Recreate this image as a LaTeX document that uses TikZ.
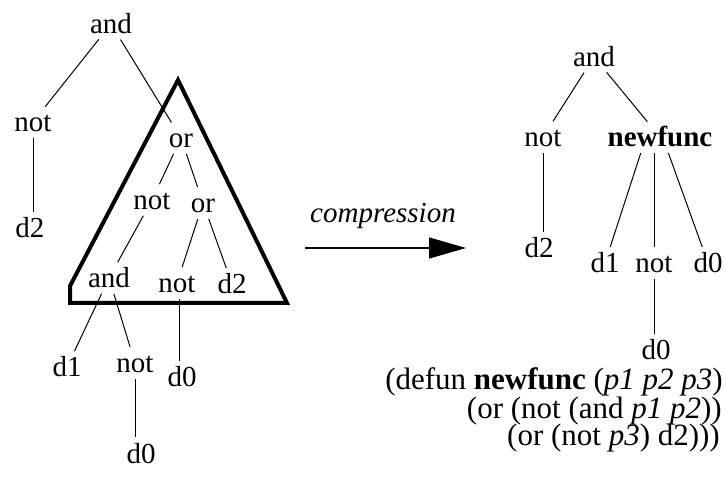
\documentclass[tikz,border=0pt]{standalone}
\usepackage{fontspec}
\setmainfont{Liberation Serif}
\usepackage{tikz}
\usetikzlibrary{arrows.meta,positioning}

\begin{document}
\begin{tikzpicture}[x=1pt,y=-1pt,font=\fontsize{29}{34}\selectfont,
  lbl/.style={inner sep=2pt,text height=20pt,text depth=0pt},
  br/.style={line width=1pt,shorten <=4pt,shorten >=4pt},
  defline/.style={anchor=base east,inner sep=0pt,font=\fontsize{31}{36}\selectfont}]
\useasboundingbox (0,0) rectangle (726,494);
% left tree
\node[lbl] (andL) at (111,24) {and};
\node[lbl] (notL) at (33,122) {not};
\node[lbl] (d2L) at (30,228) {d2};
\node[lbl] (orT) at (181,138) {or};
\node[lbl] (notM) at (152,200) {not};
\node[lbl] (orM) at (203,203) {or};
\node[lbl] (andB) at (109,278) {and};
\node[lbl] (notB) at (177,283) {not};
\node[lbl] (d2B) at (232,284) {d2};
\node[lbl] (d1L) at (67,367) {d1};
\node[lbl] (notLo) at (135,363) {not};
\node[lbl] (d0B) at (182,377) {d0};
\node[lbl] (d0Lo) at (141,453) {d0};
\draw[br] (andL) -- (notL);
\draw[br] (andL) -- (orT);
\draw[br] (notL.south) -- (notL.south |- d2L.north);
\draw[br] (orT) -- (notM);
\draw[br] (orT) -- (orM);
\draw[br] (notM) -- (andB);
\draw[br] (orM) -- (notB);
\draw[br] (orM) -- (d2B);
\draw[br] (andB) -- (d1L);
\draw[br] (andB) -- (notLo);
\draw[br] ([xshift=2pt]notB.south) -- ([xshift=2pt]notB.south |- d0B.north);
\draw[br] (notLo.south) -- (notLo.south |- d0Lo.north);
% the compressed subtree
\draw[line width=4pt,line join=miter] (178,80) -- (287,303) -- (70,303) -- (70,286) -- cycle;
% arrow
\coordinate (cfrom) at (305,248);
\coordinate (cto) at (466,248);
\draw[line width=1.3pt,-{Triangle[length=37pt,width=21pt]}] (cfrom) -- (cto);
\node[lbl] (cmp) at (383,213) {\itshape compression};
% right tree
\node[lbl] (andR) at (594,57) {and};
\node[lbl] (notR) at (543,137) {not};
\node[lbl] (nf) at (660,137) {\bfseries newfunc};
\node[lbl] (d2R) at (539,248) {d2};
\node[lbl] (d1R) at (605,263) {d1};
\node[lbl] (notR2) at (654,263) {not};
\node[lbl] (d0R) at (708,263) {d0};
\node[lbl] (d0R2) at (656,350) {d0};
\draw[br] (andR) -- (notR);
\draw[br] (andR) -- (nf);
\draw[br] (notR.south) -- (notR.south |- d2R.north);
\draw[br] ([xshift=-18pt]nf.south) -- (d1R);
\draw[br] (notR2.north) -- (notR2.north |- nf.south);
\draw[br] ([xshift=7pt]nf.south) -- (d0R);
\draw[br] (notR2.south) -- (notR2.south |- d0R2.north);
% definition
\node[defline] (def1) at (723,390) {(defun \textbf{newfunc} (\textit{p1 p2 p3})};
\node[defline] (def2) at (722,418) {(or (not (and \textit{p1 p2}))};
\node[defline] (def3) at (720,446) {(or (not \textit{p3}) d2)))};
\end{tikzpicture}
\end{document}
